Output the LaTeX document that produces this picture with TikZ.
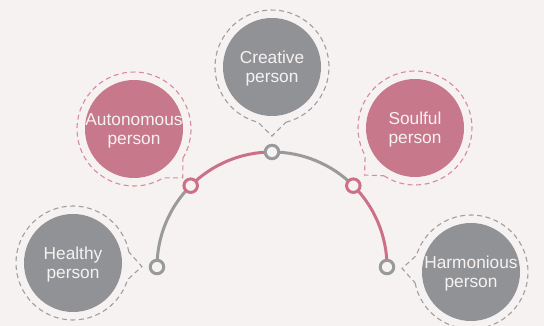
\documentclass[tikz,border=0pt]{standalone}
\usepackage{fontspec}
\setmainfont{Liberation Sans}
\usetikzlibrary{calc}
\definecolor{bg}{HTML}{F7F2F2}
\definecolor{gfill}{HTML}{909295}
\definecolor{pfill}{HTML}{C8788B}
\definecolor{gline}{HTML}{999A9C}
\definecolor{pline}{HTML}{CC7088}
\definecolor{gdash}{HTML}{9E9FA1}
\definecolor{pdash}{HTML}{D88A9E}
\definecolor{txt}{HTML}{F6F2F2}
\newcommand\mkballoon[3]{%
  \draw[#3,line width=1.1pt,dash pattern=on 5pt off 3.5pt]
    ($(#1)+(#2+14:57)$) arc[start angle=#2+14,end angle=#2+346,radius=57pt]
    -- ($(#1)+(#2:69)$) -- cycle;}
\begin{document}
\begin{tikzpicture}[x=1pt,y=1pt,
  bubble/.style={circle,inner sep=0pt,minimum size=98pt},
  word/.style={text=txt,align=center,font=\fontsize{17.3}{19}\selectfont,yshift=-1.5pt},
  dotnode/.style={circle,draw,line width=3pt,fill=bg,inner sep=0pt,minimum size=13.5pt},
  track/.style={line width=3pt}]
\fill[bg] (0,0) rectangle (544,326);
\useasboundingbox (0,0) rectangle (544,326);
% arc centre
\coordinate (o) at (272,59);
\coordinate (p1) at ($(o)+(180:115)$);
\coordinate (p2) at ($(o)+(135:115)$);
\coordinate (p3) at ($(o)+(90:115)$);
\coordinate (p4) at ($(o)+(45:115)$);
\coordinate (p5) at ($(o)+(0:115)$);
\draw[track,gline] (p1) arc[start angle=180,end angle=135,radius=115pt];
\draw[track,pline] (p2) arc[start angle=135,end angle=90,radius=115pt];
\draw[track,gline] (p3) arc[start angle=90,end angle=45,radius=115pt];
\draw[track,pline] (p4) arc[start angle=45,end angle=0,radius=115pt];
\node[dotnode,draw=gline] (d1) at (p1) {};
\node[dotnode,draw=pline] (d2) at (p2) {};
\node[dotnode,draw=gline] (d3) at (p3) {};
\node[dotnode,draw=pline] (d4) at (p4) {};
\node[dotnode,draw=gline] (d5) at (p5) {};
% bubbles
\node[bubble,fill=gfill,label={[word]center:Healthy\\person}] (b1) at (73,63) {};
\node[bubble,fill=pfill,label={[word]center:Autonomous\\person}] (b2) at (134,197) {};
\node[bubble,fill=gfill,label={[word]center:Creative\\person}] (b3) at (272,259) {};
\node[bubble,fill=pfill,label={[word]center:Soulful\\person}] (b4) at (415,198) {};
\node[bubble,fill=gfill,label={[word]center:Harmonious\\person}] (b5) at (471,54) {};
\mkballoon{b1}{-3}{gdash}
\mkballoon{b2}{-45}{pdash}
\mkballoon{b3}{-90}{gdash}
\mkballoon{b4}{-137}{pdash}
\mkballoon{b5}{177}{gdash}
\end{tikzpicture}
\end{document}
